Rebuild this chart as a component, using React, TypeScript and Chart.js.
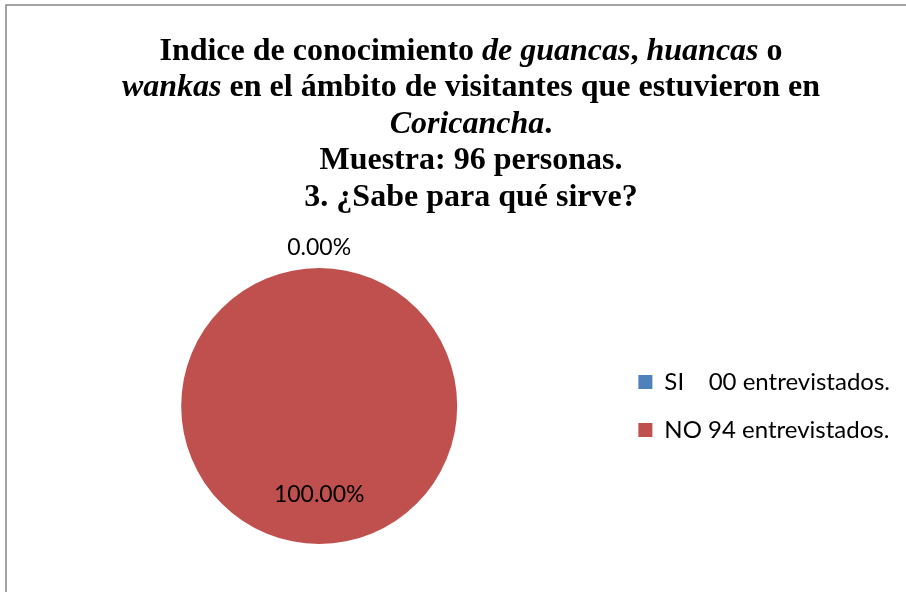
import React, { useEffect, useRef } from "react";
import { Chart, registerables } from "chart.js";

Chart.register(...registerables);

// ---- data ----
const categories = ["SI    00 entrevistados.", "NO 94 entrevistados."];
const values = [0, 94];
const colors = ["#4F81BD", "#C0504D"];
// title lines: [text, italic]
const titleLines: [string, boolean][][] = [
  [["Indice de conocimiento ", false], ["de guancas", true], [", ", false], ["huancas", true], [" o", false]],
  [["wankas", true], [" en el ámbito de visitantes que estuvieron en", false]],
  [["Coricancha", true], [".", false]],
  [["Muestra: 96 personas.", false]],
  [["3. ¿Sabe para qué sirve?", false]],
];

const W = 906;
const H = 592;

const frameTitlePlugin = {
  id: "frameTitle",
  beforeDraw(chart: any) {
    const ctx = chart.ctx as CanvasRenderingContext2D;
    ctx.save();
    ctx.fillStyle = "#ffffff";
    ctx.fillRect(0, 0, chart.width, chart.height);
    ctx.strokeStyle = "#868686";
    ctx.lineWidth = 1.5;
    ctx.strokeRect(6, 5, 2000, 2000);
    ctx.fillStyle = "#000000";
    ctx.textBaseline = "alphabetic";
    const cx = 471;
    titleLines.forEach((segs, li) => {
      let total = 0;
      const widths = segs.map(([t, it]) => {
        ctx.font = `${it ? "italic " : ""}bold 32px "Liberation Serif", "Times New Roman", serif`;
        const w = ctx.measureText(t).width;
        total += w;
        return w;
      });
      let x = cx - total / 2;
      const y = 59.5 + li * 36.5;
      segs.forEach(([t, it], i) => {
        ctx.font = `${it ? "italic " : ""}bold 32px "Liberation Serif", "Times New Roman", serif`;
        ctx.textAlign = "left";
        ctx.fillText(t, x, y);
        x += widths[i];
      });
    });
    ctx.restore();
  },
};

const dataLabelPlugin = {
  id: "pctLabels",
  afterDatasetsDraw(chart: any) {
    const ctx = chart.ctx as CanvasRenderingContext2D;
    const meta = chart.getDatasetMeta(0);
    const data = chart.data.datasets[0].data as number[];
    const total = data.reduce((a, b) => a + b, 0);
    ctx.save();
    ctx.font = '23px Lato, "Liberation Sans", sans-serif';
    ctx.fillStyle = "#000000";
    ctx.textAlign = "center";
    ctx.textBaseline = "middle";
    meta.data.forEach((arc: any, i: number) => {
      const p = arc.getProps(["x", "y", "startAngle", "endAngle", "outerRadius"], true);
      const mid = (p.startAngle + p.endAngle) / 2;
      const v = data[i];
      const r = v === 0 ? p.outerRadius + 20 : p.outerRadius * 0.645;
      const txt = ((v / total) * 100).toFixed(2) + "%";
      ctx.fillText(txt, p.x + Math.cos(mid) * r, p.y + Math.sin(mid) * r);
    });
    ctx.restore();
  },
};

export default function App() {
  const ref = useRef<HTMLCanvasElement | null>(null);
  useEffect(() => {
    if (!ref.current) return;
    const chart = new Chart(ref.current, {
      type: "pie",
      data: {
        labels: categories,
        datasets: [
          {
            data: values,
            backgroundColor: colors,
            borderWidth: 0,
          },
        ],
      },
      options: {
        responsive: false,
        animation: false,
        devicePixelRatio: 1,
        layout: { padding: { left: 24, right: 6, top: 268, bottom: 48 } },
        plugins: {
          title: { display: false },
          tooltip: { enabled: false },
          legend: {
            display: true,
            position: "right",
            labels: {
              boxWidth: 14,
              boxHeight: 14,
              padding: 24,
              color: "#000000",
              font: { family: 'Lato, "Liberation Sans", sans-serif', size: 24 },
            },
          },
        },
      },
      plugins: [frameTitlePlugin, dataLabelPlugin],
    });
    return () => chart.destroy();
  }, []);
  return (
    <div style={{ position: "fixed", left: 0, top: 0, width: W, height: H, background: "#fff" }}>
      <canvas ref={ref} width={W} height={H} style={{ display: "block" }} />
    </div>
  );
}
